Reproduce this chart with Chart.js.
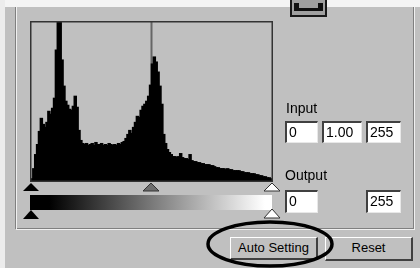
<!DOCTYPE html>
<html>
<head>
<meta charset="utf-8">
<script src="https://cdn.jsdelivr.net/npm/chart.js@4/dist/chart.umd.min.js"></script>
<style>
  html, body { margin: 0; padding: 0; }
  body { width: 420px; height: 268px; background: #c0c0c0; position: relative; overflow: hidden;
         font-family: "Liberation Sans", Arial, sans-serif; color: #000; }
  .abs { position: absolute; }
  .field { position: absolute; background: #fff; box-sizing: border-box;
           border-top: 2px solid #404040; border-left: 2px solid #404040;
           border-bottom: 1px solid #e8e8e8; border-right: 1px solid #e8e8e8;
           font-size: 14px; line-height: 19px; padding-left: 2px; }
  .btn { position: absolute; box-sizing: border-box; background: #c0c0c0;
         border-top: 1px solid #fff; border-left: 1px solid #fff;
         border-bottom: 2px solid #404040; border-right: 2px solid #404040;
         font-size: 13px; text-align: center; line-height: 20px; }
  .lbl { position: absolute; font-size: 14px; }
</style>
</head>
<body>
<!-- outer margins of the screenshot -->
<div class="abs" style="left:0;top:0;width:420px;height:7px;background:#f4f4f4"></div>
<div class="abs" style="left:0;top:0;width:5px;height:268px;background:#ececec"></div>
<!-- group frame -->
<div class="abs" style="left:15px;top:7px;width:397px;height:221px;border-left:1px solid #808080;border-bottom:1px solid #808080;border-right:1px solid #808080"></div>
<div class="abs" style="left:16px;top:7px;width:397px;height:222px;border-left:1px solid #f0f0f0;border-bottom:1px solid #f0f0f0;border-right:1px solid #f0f0f0;pointer-events:none"></div>
<!-- small icon at the top -->
<div class="abs" style="left:290px;top:0;width:37px;height:17px;box-sizing:border-box;background:#a0a0a0;border:2px solid #181818;border-top:none"></div>
<div class="abs" style="left:294px;top:3px;width:5px;height:5px;background:#101010"></div>
<div class="abs" style="left:318px;top:3px;width:5px;height:5px;background:#101010"></div>
<div class="abs" style="left:294px;top:8px;width:29px;height:3px;background:#101010"></div>

<canvas id="hist" class="abs" width="243" height="161" style="left:30px;top:21px"></canvas>

<svg class="abs" style="left:0;top:0" width="420" height="268">
  <defs>
    <linearGradient id="ramp" x1="0" x2="1" y1="0" y2="0">
      <stop offset="0" stop-color="#000"/>
      <stop offset="0.08" stop-color="#000"/>
      <stop offset="0.97" stop-color="#fff"/>
      <stop offset="1" stop-color="#fff"/>
    </linearGradient>
  </defs>
  <polygon points="31,183 23,191 39,191" fill="#000"/>
  <polygon points="151,183 143,191 159,191" fill="#6e6e6e" stroke="#333" stroke-width="1"/>
  <polygon points="272,183 264,191 280,191" fill="#fff" stroke="#333" stroke-width="1"/>
  <rect x="30" y="195" width="242" height="15" fill="url(#ramp)"/>
  <polygon points="31,210 23,219 39,219" fill="#000"/>
  <polygon points="272,209 264,218 280,218" fill="#fff" stroke="#333" stroke-width="1"/>
</svg>

<div class="lbl" style="left:286px;top:100px">Input</div>
<div class="field" style="left:285px;top:121px;width:33px;height:22px">0</div>
<div class="field" style="left:322px;top:121px;width:40px;height:22px">1.00</div>
<div class="field" style="left:366px;top:121px;width:35px;height:22px">255</div>
<div class="lbl" style="left:285px;top:167px">Output</div>
<div class="field" style="left:285px;top:190px;width:33px;height:23px">0</div>
<div class="field" style="left:366px;top:190px;width:35px;height:23px">255</div>

<div class="btn" style="left:230px;top:237px;width:88px;height:23px">Auto Setting</div>
<div class="btn" style="left:325px;top:237px;width:88px;height:24px">Reset</div>

<svg class="abs" style="left:0;top:0" width="420" height="268">
  <ellipse cx="270" cy="244" rx="62" ry="22" fill="none" stroke="#000" stroke-width="3.5"/>
</svg>

<script>
// histogram of 128 bins (2 levels each), heights
const counts = [
  2, 12, 26, 36, 49, 62, 56, 53, 58, 69, 66, 72, 82, 130, 190, 205,
  120, 94, 79, 75, 71, 70, 74, 84, 73, 50, 40, 37, 36, 37, 35, 36,
  37, 35, 38, 36, 36, 37, 35, 36, 35, 37, 36, 35, 36, 35, 37, 36,
  38, 39, 42, 46, 50, 47, 53, 58, 64, 63, 70, 74, 76, 79, 84, 95,
  116, 123, 118, 108, 94, 76, 46, 37, 31, 28, 26, 24, 24, 23, 24, 27,
  23, 22, 22, 21, 26, 20, 19, 19, 18, 18, 17, 17, 16, 16, 16, 15,
  15, 14, 13, 13, 12, 12, 12, 11, 12, 11, 11, 10, 10, 10, 10, 9,
  9, 8, 8, 8, 7, 7, 7, 6, 6, 5, 5, 4, 4, 3, 3, 2
];
const levels = counts.map((c, i) => i * 2);
const gammaLevel = 128;
const yMax = 158;

const frame = {
  id: 'frame',
  beforeDatasetsDraw(chart) {
    const { ctx, chartArea: a, scales } = chart;
    const idx = levels.indexOf(gammaLevel);
    const x = scales.x.getPixelForValue(idx) - (a.right - a.left) / levels.length / 2;
    ctx.save();
    ctx.strokeStyle = '#666';
    ctx.lineWidth = 2;
    ctx.beginPath();
    ctx.moveTo(x, a.top);
    ctx.lineTo(x, a.bottom);
    ctx.stroke();
    ctx.restore();
  },
  afterDraw(chart) {
    const { ctx, chartArea: a } = chart;
    ctx.save();
    ctx.strokeStyle = '#333';
    ctx.lineWidth = 1.5;
    ctx.strokeRect(a.left - 0.25, a.top - 0.25, a.right - a.left + 0.5, a.bottom - a.top + 0.5);
    ctx.restore();
  }
};

new Chart(document.getElementById('hist'), {
  type: 'bar',
  data: {
    labels: levels,
    datasets: [{
      data: counts,
      backgroundColor: '#000',
      borderColor: '#000',
      borderWidth: 0,
      inflateAmount: 0.8,
      barPercentage: 1,
      categoryPercentage: 1
    }]
  },
  options: {
    responsive: false,
    devicePixelRatio: 1,
    animation: false,
    layout: { padding: 1 },
    plugins: { legend: { display: false }, tooltip: { enabled: false } },
    scales: {
      x: { display: false },
      y: { display: false, min: 0, max: yMax }
    }
  },
  plugins: [frame]
});
</script>
</body>
</html>
